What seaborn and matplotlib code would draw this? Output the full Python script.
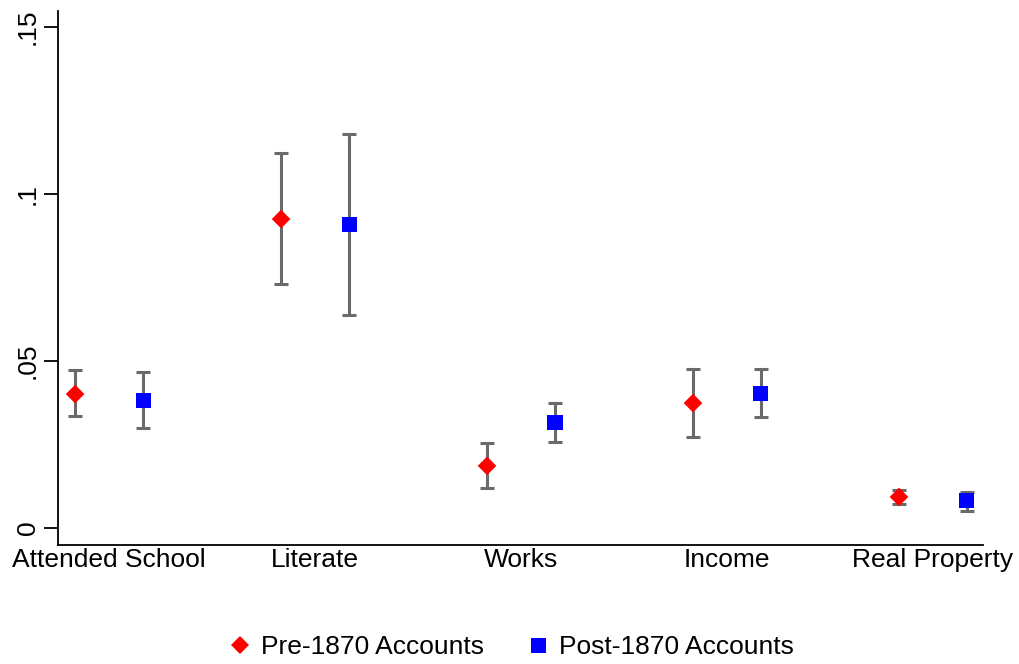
import matplotlib
matplotlib.use("Agg")
import matplotlib.pyplot as plt
import seaborn as sns
import pandas as pd
import numpy as np

categories = ["Attended School", "Literate", "Works", "Income", "Real Property"]
pre_est = [0.0401, 0.0925, 0.0186, 0.0374, 0.0093]
pre_lo = [0.0335, 0.0731, 0.0120, 0.0272, 0.0072]
pre_hi = [0.0473, 0.1122, 0.0254, 0.0476, 0.0114]
post_est = [0.0383, 0.0910, 0.0317, 0.0404, 0.0081]
post_lo = [0.0299, 0.0638, 0.0257, 0.0332, 0.0051]
post_hi = [0.0467, 0.1180, 0.0374, 0.0476, 0.0108]
yticks = [0, 0.05, 0.1, 0.15]
ytick_labels = ["0", ".05", ".1", ".15"]
series = ["Pre-1870 Accounts", "Post-1870 Accounts"]

sns.set_style("white")
plt.rcParams["font.family"] = ["Liberation Sans", "DejaVu Sans"]
plt.rcParams["text.color"] = "black"
plt.rcParams["xtick.color"] = "black"
plt.rcParams["ytick.color"] = "black"
plt.rcParams["xtick.labelcolor"] = "black"
plt.rcParams["ytick.labelcolor"] = "black"

rows = []
for i, c in enumerate(categories):
    rows.append(dict(cat=c, idx=i, group=series[0], est=pre_est[i], lo=pre_lo[i], hi=pre_hi[i]))
    rows.append(dict(cat=c, idx=i, group=series[1], est=post_est[i], lo=post_lo[i], hi=post_hi[i]))
df = pd.DataFrame(rows)
offset = {series[0]: -0.165, series[1]: 0.165}
df["x"] = df["idx"] + df["group"].map(offset)

fig = plt.figure(figsize=(10.19, 6.64), dpi=100)
ax = fig.add_axes([58 / 1019, 1 - 545 / 664, (983 - 58) / 1019, (545 - 11) / 664])

for g in series:
    d = df[df["group"] == g]
    ax.errorbar(d["x"], d["est"], yerr=[d["est"] - d["lo"], d["hi"] - d["est"]],
                fmt="none", ecolor="#6a6a6a", elinewidth=2.2, capsize=5, capthick=2.2, zorder=2)

markers = {series[0]: "D", series[1]: "s"}
colors = {series[0]: "#ff0000", series[1]: "#0000ff"}
sizes = {series[0]: 90, series[1]: 117}
for g in series:
    d = df[df["group"] == g]
    sns.scatterplot(data=d, x="x", y="est", marker=markers[g], color=colors[g],
                    s=sizes[g], edgecolor="none", linewidth=0, ax=ax, zorder=3, label=g, legend=False)

ax.set_xlim(-0.248, 4.243)
ax.set_ylim(-0.0051, 0.1548)
ax.set_xticks(range(len(categories)))
ax.set_xticklabels(categories, fontsize=19, color="black")
ax.set_yticks(yticks)
ax.set_yticklabels(ytick_labels, fontsize=19, rotation=90, va="center", color="black")
ax.tick_params(axis="y", length=10, width=1.3, color="black", pad=3, left=True)
ax.tick_params(axis="x", length=0, pad=2)
ax.set_xlabel("")
ax.set_ylabel("")
for s in ["top", "right"]:
    ax.spines[s].set_visible(False)
for s in ["left", "bottom"]:
    ax.spines[s].set_color("black")
    ax.spines[s].set_linewidth(1.3)

from matplotlib.lines import Line2D
handles = [Line2D([], [], marker="D", color=colors[series[0]], linestyle="none", markersize=9.5, markeredgewidth=0),
           Line2D([], [], marker="s", color=colors[series[1]], linestyle="none", markersize=10.8, markeredgewidth=0)]
leg = fig.legend(handles, series, loc="center", bbox_to_anchor=(0.5005, 1 - 647 / 664), ncol=2, frameon=False,
                 fontsize=19, handletextpad=0.3, columnspacing=1.55, handlelength=1.0)
for t in leg.get_texts():
    t.set_color("black")

fig.savefig("out.png", dpi=100, facecolor="white")
